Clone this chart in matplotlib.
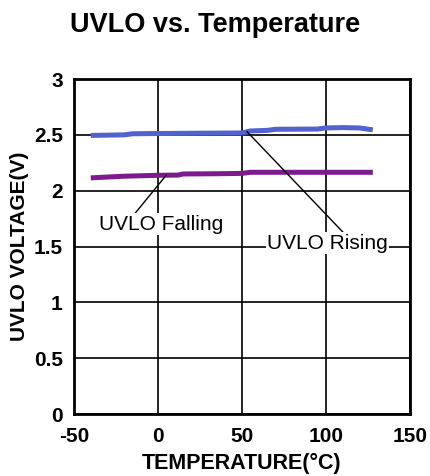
import matplotlib
matplotlib.use("Agg")
import matplotlib.pyplot as plt

# UVLO rising threshold vs temperature
rising_temp = [-40, -20, -15, 0, 25, 50, 55, 65, 70, 95, 100, 110, 120, 128]
rising_volt = [2.495, 2.50, 2.51, 2.512, 2.515, 2.517, 2.535, 2.54, 2.55, 2.552, 2.562, 2.565, 2.562, 2.545]

# UVLO falling threshold vs temperature
falling_temp = [-40, -20, 0, 12, 15, 35, 50, 55, 70, 100, 128]
falling_volt = [2.115, 2.13, 2.138, 2.14, 2.15, 2.152, 2.155, 2.165, 2.165, 2.165, 2.165]

x_ticks = [-50, 0, 50, 100, 150]
y_ticks = [0, 0.5, 1, 1.5, 2, 2.5, 3]
y_tick_labels = ["0", "0.5", "1", "1.5", "2", "2.5", "3"]

plt.rcParams["font.family"] = ["Liberation Sans", "DejaVu Sans"]
plt.rcParams["axes.unicode_minus"] = False

fig = plt.figure(figsize=(4.3, 4.76), dpi=100)
ax = fig.add_axes([0.172, 0.130, 0.781, 0.704])

ax.plot(rising_temp, rising_volt, color="#5262cf", lw=3.6, solid_capstyle="butt", zorder=3)
ax.plot(falling_temp, falling_volt, color="#7d1a8e", lw=3.6, solid_capstyle="butt", zorder=3)

ax.set_xlim(-50, 150)
ax.set_ylim(0, 3)
ax.set_xticks(x_ticks)
ax.set_yticks(y_ticks)
ax.set_yticklabels(y_tick_labels)
ax.tick_params(length=0, labelsize=15)
ax.tick_params(axis="x", pad=9)
ax.tick_params(axis="y", pad=8)
for lbl in ax.get_xticklabels() + ax.get_yticklabels():
    lbl.set_fontweight("bold")
ax.grid(True, color="black", lw=1.2, zorder=1)
for sp in ax.spines.values():
    sp.set_linewidth(2)

ax.set_xlabel("TEMPERATURE(°C)", fontsize=15.5, fontweight="bold", labelpad=5)
ax.set_ylabel("UVLO VOLTAGE(V)", fontsize=15, fontweight="bold", labelpad=3.5)

box = dict(facecolor="white", edgecolor="none", pad=1)
ax.annotate("UVLO Falling", xy=(5, 2.14), xytext=(2, 1.70), fontsize=15,
            ha="center", va="center", bbox=box, zorder=4,
            arrowprops=dict(arrowstyle="-", color="black", lw=1, shrinkA=0, shrinkB=0,
                            relpos=(0.28, 1.0)))
ax.annotate("UVLO Rising", xy=(53, 2.53), xytext=(101, 1.53), fontsize=15,
            ha="center", va="center", bbox=box, zorder=4,
            arrowprops=dict(arrowstyle="-", color="black", lw=1, shrinkA=0, shrinkB=0,
                            relpos=(0.64, 1.0)))

fig.text(0.5, 0.947, "UVLO vs. Temperature", fontsize=19.5, fontweight="bold",
         ha="center", va="center")

fig.savefig("out.png", dpi=100)
